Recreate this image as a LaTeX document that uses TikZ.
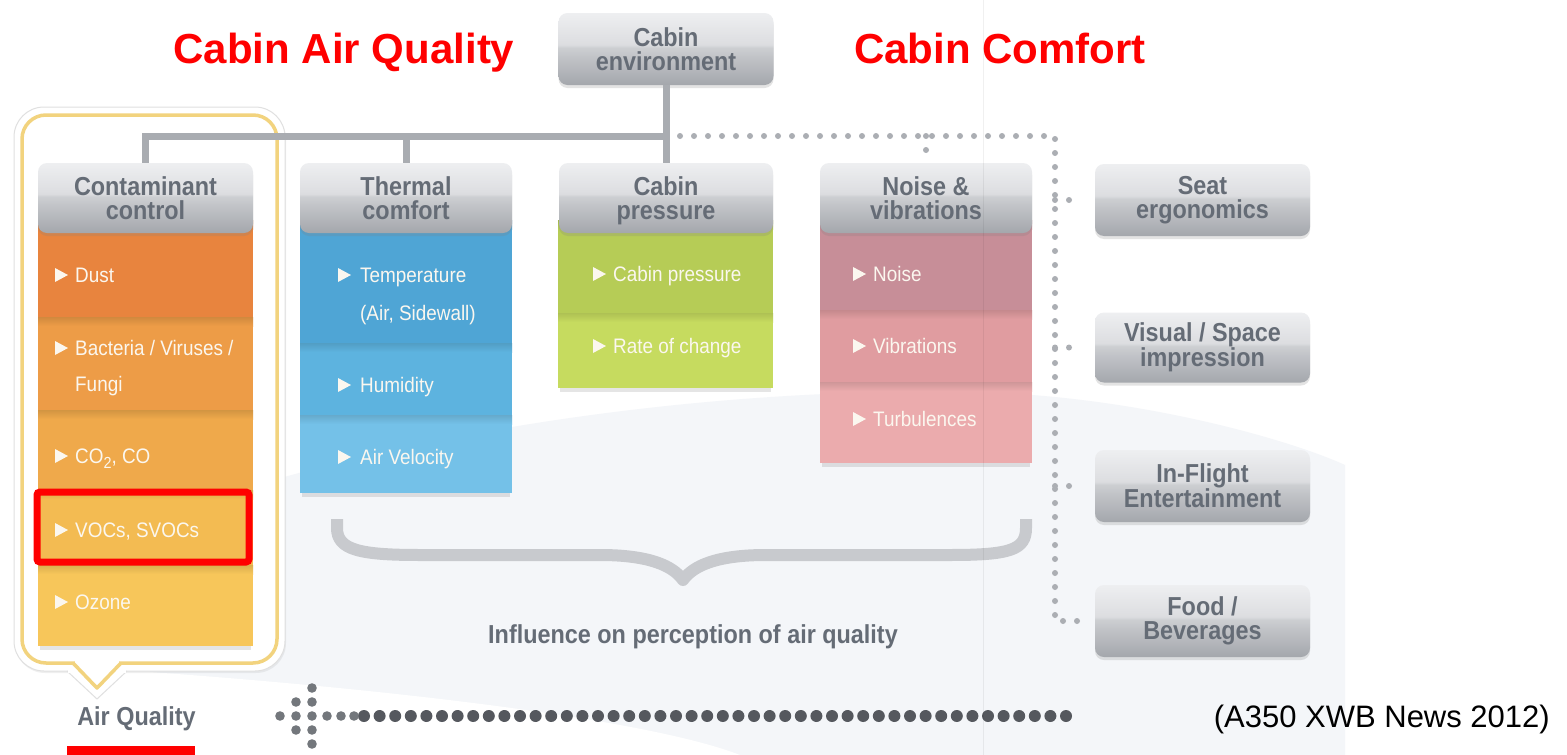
\documentclass[tikz,border=0pt]{standalone}
\usepackage{fontspec}
\setmainfont{Liberation Sans}
\newfontfamily\cnd[FakeStretch=0.9]{Liberation Sans}
\usetikzlibrary{shadows}
\definecolor{gB}{HTML}{A4A7AC}
\definecolor{gM1}{HTML}{C2C4C8}
\definecolor{gM2}{HTML}{CDCFD2}
\definecolor{gH}{HTML}{DCDDE0}
\definecolor{gT}{HTML}{EEEFF1}
\definecolor{hdrtxt}{HTML}{656C76}
\definecolor{treeg}{HTML}{A9ACB1}
\definecolor{dotg}{HTML}{ABAEB3}
\definecolor{yellowc}{HTML}{F2D37E}
\definecolor{bracec}{HTML}{C8CACE}
\definecolor{dk}{HTML}{55585E}
\definecolor{dk2}{HTML}{73777C}
\definecolor{swoosh}{HTML}{F4F6F9}
\definecolor{itemtxt}{HTML}{FBF7EF}
\definecolor{o1}{HTML}{E8843E}
\definecolor{o2}{HTML}{ED9C47}
\definecolor{o3}{HTML}{EFA94B}
\definecolor{o4}{HTML}{F3BB52}
\definecolor{o5}{HTML}{F7C65A}
\definecolor{b1}{HTML}{4FA5D5}
\definecolor{b2}{HTML}{5DB3DF}
\definecolor{b3}{HTML}{74C1E8}
\definecolor{g1}{HTML}{B6CC56}
\definecolor{g2}{HTML}{C6DB5F}
\definecolor{p1}{HTML}{C78E98}
\definecolor{p2}{HTML}{E09CA0}
\definecolor{p3}{HTML}{EBABAD}
\definecolor{redc}{HTML}{FF0000}
\pgfdeclareverticalshading{gloss}{100bp}{color(0bp)=(gB); color(25bp)=(gB); color(45bp)=(gM1); color(51bp)=(gM2); color(53bp)=(gH); color(75bp)=(gT); color(100bp)=(gT)}
\newcommand\colband[5]{\fill[#5] (#1,#3) rectangle (#2,#4); \fill[top color=#5!88!black, bottom color=#5] (#1,#3) rectangle (#2,#3+9);}
\newcommand\nd[1]{\raisebox{0pt}[\height][0pt]{#1}}
\tikzset{
  hdr/.style={rounded corners=9pt, shading=gloss, minimum width=215pt, minimum height=70pt,
    align=center, font=\cnd\bfseries\fontsize{26}{24}\selectfont, text=hdrtxt, inner sep=0pt,
    drop shadow={shadow xshift=0pt, shadow yshift=-3pt, opacity=0.22}},
  item/.style={anchor=base west, font=\cnd\fontsize{21}{24}\selectfont, text=itemtxt, inner sep=0pt},
  tree/.style={draw=treeg, line width=7pt},
  dots/.style={draw=dotg, line width=6pt, line cap=round, dash pattern=on 0pt off 14pt},
  bul/.pic={\fill[itemtxt] (0,0) -- (13,7) -- (0,14) -- cycle;},
  redtitle/.style={anchor=base, font=\bfseries\fontsize{42}{46}\selectfont, text=redc, inner sep=0pt},
  graylabel/.style={anchor=base, font=\cnd\bfseries\fontsize{26}{28}\selectfont, text=hdrtxt, inner sep=0pt},
}
\begin{document}
\begin{tikzpicture}[x=1pt,y=-1pt]
\useasboundingbox (0,0) rectangle (1567,755);
\fill[white] (0,0) rectangle (1567,755);
% background swoosh
\fill[swoosh] (150,520) .. controls (450,410) and (800,385) .. (1000,393) .. controls (1150,400) and (1290,440) .. (1345,465) -- (1345,755) -- (150,755) -- cycle;
\fill[white] (150,672) .. controls (400,690) and (650,720) .. (740,755) -- (150,755) -- cycle;

% callout
\filldraw[fill=white, draw=black!12, line width=1pt, rounded corners=30pt,
  drop shadow={shadow xshift=1pt, shadow yshift=-2pt, opacity=0.12}] (14,107) rectangle (285,671);
\filldraw[fill=white, draw=black!12, line width=1pt] (67,671) -- (97,699) -- (127,671);
\fill[white] (68,668) rectangle (126,673);
\draw[yellowc, line width=3.5pt, rounded corners=24pt] (22,115) rectangle (277,663);
\fill[white] (75,660) rectangle (119,667);
\draw[yellowc, line width=3.5pt, line join=round] (73,663) -- (97,688) -- (121,663);

% column bodies
\colband{38}{253}{220}{317}{o1}
\colband{38}{253}{317}{410}{o2}
\colband{38}{253}{410}{490}{o3}
\colband{38}{253}{490}{565}{o4}
\colband{38}{253}{565}{646}{o5}
\fill[black,opacity=0.10] (40,646) rectangle (251,650);
\colband{300}{512}{220}{343}{b1}
\colband{300}{512}{343}{415}{b2}
\colband{300}{512}{415}{493}{b3}
\fill[black,opacity=0.10] (302,493) rectangle (510,497);
\colband{558}{773}{220}{313}{g1}
\colband{558}{773}{313}{388}{g2}
\fill[black,opacity=0.10] (560,388) rectangle (771,392);
\colband{820}{1032}{220}{310}{p1}
\colband{820}{1032}{310}{382}{p2}
\colband{820}{1032}{382}{463}{p3}
\fill[black,opacity=0.10] (822,463) rectangle (1030,467);

% header nodes
\node[hdr, minimum height=72pt] (env) at (666,49) {Cabin\\environment};
\node[hdr] (cc) at (145.5,198) {Contaminant\\control};
\node[hdr, minimum width=212pt] (tc) at (406,198) {Thermal\\comfort};
\node[hdr, minimum width=214pt] (tp) at (666,198) {Cabin\\\nd{pressure}};
\node[hdr, minimum width=212pt] (nv) at (926,198) {Noise \&\\vibrations};
\node[hdr, minimum height=72pt] (seat) at (1202.5,200) {Seat\\ergonomics};
\node[hdr, minimum height=70pt] (vis) at (1202.5,347.5) {Visual / Space\\impression};
\node[hdr, minimum height=72pt] (ife) at (1202.5,486) {In-Flight\\Entertainment};
\node[hdr, minimum height=72pt] (food) at (1202.5,621) {Food /\\Beverages};

% tree connectors
\coordinate (bus) at (666,136);
\coordinate (dc) at (1055,136);
\draw[tree] (cc.north) |- (bus);
\draw[tree] (tc.north) -- (tc.north |- bus);
\draw[tree] (env.south) -- (tp.north);
\draw[dots] ([xshift=14pt]bus) -- (dc) -- (dc |- food.west) -- ([xshift=-12pt]food.west);
\draw[dots] (nv.north |- bus) -- ([yshift=-1pt]nv.north |- 0,150);
\draw[dots] (dc |- seat.west) -- ([xshift=-12pt]seat.west);
\draw[dots] (dc |- vis.west) -- ([xshift=-12pt]vis.west);
\draw[dots] (dc |- ife.west) -- ([xshift=-12pt]ife.west);

% items: contaminant control
\pic at (55,268) {bul};
\node[item] (i1) at (75,282) {Dust};
\pic at (55,341) {bul};
\node[item] (i2) at (75,355) {Bacteria / Viruses /};
\node[item] (i2b) at (75,391) {Fungi};
\pic at (55,449) {bul};
\node[item] (i3) at (75,463) {CO\raisebox{-0.28em}{\fontsize{16}{16}\selectfont 2}, CO};
\pic at (55,523) {bul};
\node[item] (i4) at (75,537) {VOCs, SVOCs};
\pic at (55,595) {bul};
\node[item] (i5) at (75,609) {Ozone};
% thermal
\pic at (338,268) {bul};
\node[item] (t1) at (360,282) {Temperature};
\node[item] (t1b) at (360,320) {(Air, Sidewall)};
\pic at (338,378) {bul};
\node[item] (t2) at (360,392) {Humidity};
\pic at (338,450) {bul};
\node[item] (t3) at (360,464) {Air Velocity};
% pressure
\pic at (593,267) {bul};
\node[item] (c1) at (613,281) {Cabin pressure};
\pic at (593,339) {bul};
\node[item] (c2) at (613,353) {Rate of change};
% noise
\pic at (853,267) {bul};
\node[item] (n1) at (873,281) {Noise};
\pic at (853,339) {bul};
\node[item] (n2) at (873,353) {Vibrations};
\pic at (853,412) {bul};
\node[item] (n3) at (873,426) {Turbulences};

% red highlight box
\draw[redc, line width=7pt, rounded corners=3pt] (37,492) rectangle (249,562);

% brace
\draw[bracec, line width=12pt, line join=round] (337,519) -- (337,528) .. controls (337,550) and (360,555) .. (420,555) -- (600,555) .. controls (650,555) and (673,566) .. (683,580) .. controls (693,566) and (716,555) .. (766,555) -- (950,555) .. controls (1010,555) and (1026,550) .. (1026,528) -- (1026,519);
\node[graylabel] (infl) at (693,643) {Influence on perception of air quality};

% titles
\node[redtitle] (caq) at (344,63) {Cabin Air Quality};
\node[redtitle] (ccf) at (1000,63) {Cabin Comfort};
\node[graylabel] (aq) at (136.5,725) {Air Quality};
\fill[redc] (67,746) rectangle (195,755);
\node[anchor=base east, font=\fontsize{31}{34}\selectfont, inner sep=0pt] (src) at (1550,727) {(A350 XWB News 2012)};

% dotted arrow
\foreach \i in {0,...,45} \fill[dk] ({364+\i*15.6},716) circle (6);
\foreach \xx in {280,296,312,327,341,354} \fill[dk2] (\xx,716) circle (4.8);
\foreach \yy in {688,702,730,744} \fill[dk2] (312,\yy) circle (4.8);
\foreach \yy in {702,730} \fill[dk2] (296,\yy) circle (4.8);

% faint seam
\draw[black, opacity=0.06, line width=1pt] (983,0) -- (983,755);
\end{tikzpicture}
\end{document}
